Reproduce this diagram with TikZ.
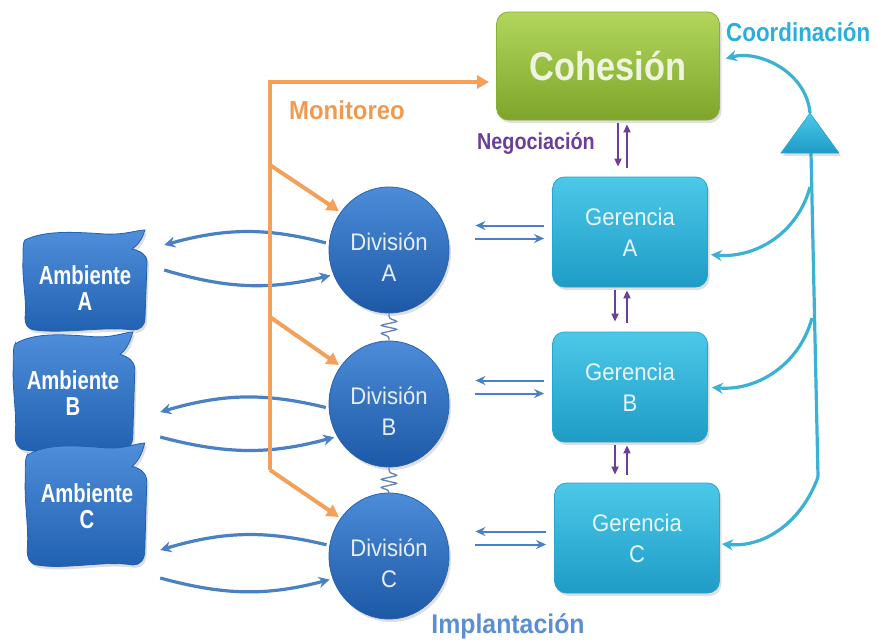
\documentclass[tikz,border=0pt]{standalone}
\usepackage{fontspec}
\setmainfont{Liberation Sans}
\newfontfamily\fnA[FakeStretch=0.78]{Liberation Sans}
\newfontfamily\fnB[FakeStretch=0.86]{Liberation Sans}
\newfontfamily\fnC[FakeStretch=0.92]{Liberation Sans}
\usetikzlibrary{arrows.meta,shapes.geometric,shadows,calc}
\definecolor{cohTop}{HTML}{B2D65C}
\definecolor{cohBot}{HTML}{7EA52A}
\definecolor{cohEdge}{HTML}{8AAE3A}
\definecolor{cohText}{HTML}{EEF3E2}
\definecolor{gerTop}{HTML}{4CC8E8}
\definecolor{gerBot}{HTML}{1E9CC6}
\definecolor{gerEdge}{HTML}{2AA4CC}
\definecolor{gerText}{HTML}{E6F6FB}
\definecolor{divTop}{HTML}{4C8CD8}
\definecolor{divBot}{HTML}{1C58A6}
\definecolor{divEdge}{HTML}{2A64AE}
\definecolor{divText}{HTML}{E6EEF8}
\definecolor{ambTop}{HTML}{4E8EDA}
\definecolor{ambBot}{HTML}{2060B0}
\definecolor{arrBlue}{HTML}{4A80C4}
\definecolor{arrCyan}{HTML}{3BB2D4}
\definecolor{orangeL}{HTML}{F4A05A}
\definecolor{orangeT}{HTML}{F09A50}
\definecolor{purpleA}{HTML}{6B3F98}
\definecolor{coordT}{HTML}{2AAEDC}
\definecolor{implT}{HTML}{5B8FD2}
\definecolor{springC}{HTML}{6584B4}
\begin{document}
\begin{tikzpicture}[x=1pt,y=-1pt,
  shad/.style={drop shadow={opacity=0.25,shadow xshift=2pt,shadow yshift=-3pt}},
  cohbox/.style={rounded corners=12pt, minimum width=223pt, minimum height=108pt,
    top color=cohTop, bottom color=cohBot, draw=cohEdge, line width=0.8pt,
    text=cohText, font=\fnB\bfseries\fontsize{40}{44}\selectfont, shad},
  gerbox/.style={rounded corners=12pt, minimum height=110pt,
    top color=gerTop, bottom color=gerBot, draw=gerEdge, line width=0.8pt,
    text=gerText, align=center, font=\fnC\fontsize{24}{31}\selectfont, shad},
  divball/.style={ellipse, minimum width=120pt, minimum height=126pt, inner sep=0pt,
    text height=63pt,
    top color=divTop, bottom color=divBot, draw=divEdge, line width=0.8pt,
    text=divText, align=center, font=\fnC\fontsize{24}{31}\selectfont, shad},
  ambfill/.style={top color=ambTop, bottom color=ambBot, draw=ambBot, line width=0.8pt, shad},
  ambtext/.style={minimum height=60pt, inner sep=0pt, text=white, align=center,
    font=\fnA\bfseries\fontsize{26}{26}\selectfont},
  barrow/.style={draw=arrBlue, line width=3.2pt, -{Stealth[length=11pt,width=11pt]}},
  sarrow/.style={draw=arrBlue, line width=2pt, -{Stealth[length=10pt,width=9pt]}},
  carrow/.style={draw=arrCyan, line width=3.2pt, -{Stealth[length=11pt,width=11pt]}},
  cline/.style={draw=arrCyan, line width=3.2pt},
  oarrow/.style={draw=orangeL, line width=4pt, -{Triangle[length=12pt,width=13pt]}},
  parrow/.style={draw=purpleA, line width=1.8pt, -{Triangle[length=8pt,width=7pt]}},
  spring/.style={draw=springC, line width=1.3pt, rounded corners=2.5pt},
  lbl/.style={inner sep=0pt}
]
\useasboundingbox (0,0) rectangle (877,643);

% Ambiente shapes
\foreach \cx/\cy/\sx/\sy in {85/280/1.0/1.0, 74/391/0.98/1.18, 86/504/0.98/1.22}{
  \path[ambfill, shift={(\cx,\cy)}, xscale=\sx, yscale=\sy]
    (-60,-40) .. controls (-40,-50) and (-10,-48) .. (20,-46)
    .. controls (40,-45) and (52,-50) .. (60,-50)
    .. controls (57,-40) and (52,-34) .. (47,-31)
    .. controls (55,-29) and (62,-26) .. (62,-18)
    -- (60,38) .. controls (60,46) and (55,50) .. (48,50)
    .. controls (20,46) and (-20,54) .. (-50,50)
    .. controls (-58,49) and (-60,44) .. (-60,38)
    .. controls (-58,20) and (-63,0) .. (-62,-20)
    .. controls (-62,-32) and (-62,-38) .. cycle;
}
\node[ambtext, minimum width=158pt] (ambA) at (85,288) {Ambiente\\A};
\node[ambtext, minimum width=174pt] (ambB) at (73,393) {Ambiente\\B};
\node[ambtext, minimum width=146pt] (ambC) at (87,506) {Ambiente\\C};

% Main nodes
\node[cohbox] (coh) at (608,66) {Cohesión};
\node[gerbox, minimum width=155pt] (gerA) at (630,232) {Gerencia\\A};
\node[gerbox, minimum width=155pt] (gerB) at (630,387) {Gerencia\\B};
\node[gerbox, minimum width=165pt] (gerC) at (637,538) {Gerencia\\C};
\node[divball] (divA) at (389,250) {División\\A};
\node[divball] (divB) at (389,404) {División\\B};
\node[divball] (divC) at (389,556) {División\\C};

% Labels
\node[lbl, text=orangeT, font=\fnC\bfseries\fontsize{26}{26}\selectfont] (mon) at (347,110) {Monitoreo};
\node[lbl, text=purpleA, font=\fnB\bfseries\fontsize{23}{23}\selectfont] (neg) at (536,143) {Negociación};
\node[lbl, anchor=west, text=coordT, font=\fnB\bfseries\fontsize{26}{26}\selectfont] (coord) at (726,32) {Coordinación};
\node[lbl, text=implT, font=\fnC\bfseries\fontsize{27}{27}\selectfont] (impl) at (508,626) {Implantación};

% Springs
\draw[spring] (divA.south) -- ++(0,5) -- ++(9,3) -- ++(-18,4) -- ++(18,4) -- ++(-18,4) -- ++(9,3) -- (divB.north);
\draw[spring] (divB.south) -- ++(0,5) -- ++(9,3) -- ++(-18,4) -- ++(18,4) -- ++(-18,4) -- ++(9,3) -- (divC.north);

% Ambiente <-> Division arrows
\draw[barrow, shorten <=3pt] (divA.174) to[bend right=15] ($(ambA.east)+(0,-43)$);
\draw[barrow, shorten >=3pt] ($(ambA.east)+(0,-18)$) to[bend right=15] (divA.204);
\draw[barrow, shorten <=3pt] (divB.184) to[bend right=15] ($(ambB.east)+(0,19)$);
\draw[barrow, shorten >=3pt] ($(ambB.east)+(0,44)$) to[bend right=15] (divB.212);
\draw[barrow, shorten <=3pt] (divC.170) to[bend right=15] ($(ambC.east)+(0,44)$);
\draw[barrow, shorten >=3pt] ($(ambC.east)+(0,72)$) to[bend right=15] (divC.202);

% Division <-> Gerencia arrows
\foreach \g/\d in {gerA/divA, gerB/divB, gerC/divC}{
  \draw[sarrow, shorten <=8pt, shorten >=26pt, transform canvas={yshift=6.5pt}] (\g.west) -- (\g.west -| \d.east);
  \draw[sarrow, shorten <=26pt, shorten >=8pt, transform canvas={yshift=-6.5pt}] (\g.west -| \d.east) -- (\g.west);
}

% Negociacion arrows
\draw[parrow, shorten <=3pt, shorten >=10pt] ([xshift=10pt]coh.south) -- ([xshift=10pt]coh.south |- gerA.north);
\draw[parrow, shorten <=9pt, shorten >=4pt] ([xshift=19pt]coh.south |- gerA.north) -- ([xshift=19pt]coh.south);
\draw[parrow, shorten <=3pt, shorten >=10pt] ([xshift=-15pt]gerA.south) -- ([xshift=-15pt]gerA.south |- gerB.north);
\draw[parrow, shorten <=9pt, shorten >=3pt] ([xshift=-3pt]gerA.south |- gerB.north) -- ([xshift=-3pt]gerA.south);
\draw[parrow, shorten <=3pt, shorten >=8pt] ([xshift=-15pt]gerB.south) -- ([xshift=-15pt]gerB.south |- gerC.north);
\draw[parrow, shorten <=8pt, shorten >=3pt] ([xshift=-3pt]gerB.south |- gerC.north) -- ([xshift=-3pt]gerB.south);

% Monitoreo (orange)
\coordinate (oTop) at (270,82);
\coordinate (oBot) at (270,470);
\coordinate (o1) at (270,165);
\coordinate (o2) at (270,317);
\coordinate (oTip) at (489,82);
\draw[oarrow] (oBot) -- (oTop) -- (oTip);
\draw[oarrow, shorten >=2pt] (o1) -- (divA.142);
\draw[oarrow, shorten >=2pt] (o2) -- (divB.142);
\draw[oarrow, shorten >=2pt] (oBot) -- (divC.142);

% Coordinacion (cyan)
\coordinate (triTop) at (810,113);
\coordinate (triL) at (781,153);
\coordinate (triR) at (839,153);
\coordinate (triBot) at (811,153);
\coordinate (cBot) at (818,477);
\coordinate (c1) at (810,187);
\coordinate (c2) at (812,318);
\draw[cline] (cBot) -- (triBot);
\draw[carrow, shorten >=6pt] (triTop) to[out=95, in=15] (coh.3);
\path[top color=gerTop, bottom color=gerBot, draw=gerEdge, line width=0.6pt, shad] (triTop) -- (triR) -- (triL) -- cycle;
\draw[carrow, shorten >=3pt] (c1) to[out=-105, in=-5] (gerA.-16);
\draw[carrow, shorten >=4pt] (c2) to[out=-105, in=-5] (gerB.east);
\draw[carrow, shorten >=2pt] (cBot) to[out=-110, in=-5] (gerC.-4);
\end{tikzpicture}
\end{document}
